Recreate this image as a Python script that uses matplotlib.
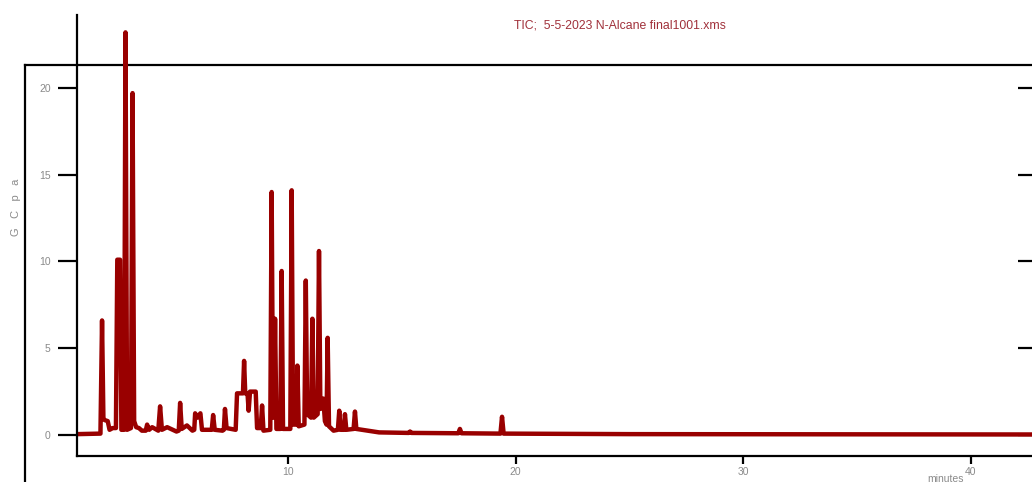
import matplotlib
matplotlib.use("Agg")
import matplotlib.pyplot as plt
from matplotlib.lines import Line2D

plt.rcParams['font.family'] = ['Liberation Sans', 'DejaVu Sans']

# retention time (minutes) and counts
rt_min = [0.73, 1.76, 1.83, 1.89, 1.97, 2.08, 2.16, 2.30, 2.44, 2.50,
          2.62, 2.68, 2.80, 2.86, 2.93, 3.10, 3.17, 3.24, 3.33, 3.45,
          3.58, 3.75, 3.81, 3.90, 4.03, 4.30, 4.38, 4.46, 4.69, 5.10,
          5.20, 5.26, 5.33, 5.56, 5.80, 5.88, 5.92, 6.02, 6.15, 6.22,
          6.65, 6.71, 6.78, 7.12, 7.18, 7.23, 7.30, 7.70, 7.76, 8.02,
          8.07, 8.12, 8.22, 8.27, 8.33, 8.58, 8.64, 8.80, 8.86, 8.92,
          9.22, 9.28, 9.34, 9.38, 9.43, 9.49, 9.66, 9.72, 9.78, 10.10,
          10.16, 10.22, 10.36, 10.41, 10.47, 10.72, 10.78, 10.84, 11.01, 11.07,
          11.13, 11.30, 11.36, 11.42, 11.51, 11.55, 11.62, 11.69, 11.74, 11.80,
          12.00, 12.19, 12.25, 12.31, 12.45, 12.50, 12.56, 12.88, 12.94, 13.00,
          13.50, 14.00, 15.30, 15.36, 15.42, 17.48, 17.55, 17.62, 19.33, 19.40,
          19.47, 25.00, 42.70]
counts = [0.05, 0.08, 6.60, 0.90, 0.85, 0.80, 0.30, 0.40, 0.40, 10.10,
          10.10, 0.30, 0.30, 23.20, 0.30, 0.40, 19.70, 0.80, 0.45, 0.40,
          0.25, 0.25, 0.60, 0.30, 0.45, 0.25, 1.65, 0.30, 0.45, 0.20,
          0.25, 1.85, 0.35, 0.55, 0.25, 0.30, 1.25, 1.00, 1.25, 0.30,
          0.30, 1.15, 0.30, 0.25, 0.30, 1.50, 0.40, 0.30, 2.40, 2.40,
          4.27, 2.40, 2.40, 1.40, 2.50, 2.50, 0.40, 0.40, 1.70, 0.25,
          0.30, 14.00, 1.00, 1.00, 6.70, 0.35, 0.35, 9.45, 0.35, 0.35,
          14.10, 0.60, 0.60, 4.00, 0.50, 0.60, 8.90, 1.20, 1.00, 6.70,
          1.00, 1.20, 10.60, 1.50, 1.60, 2.10, 0.80, 0.60, 5.60, 0.50,
          0.25, 0.30, 1.40, 0.30, 0.30, 1.20, 0.30, 0.35, 1.35, 0.35,
          0.25, 0.15, 0.12, 0.20, 0.12, 0.10, 0.35, 0.10, 0.08, 1.05,
          0.08, 0.05, 0.03]

x_ticks = [10, 20, 30, 40]
y_ticks = [0, 5, 10, 15, 20]

W, H = 1032, 482
fig = plt.figure(figsize=(W / 100, H / 100), dpi=100)
ax = fig.add_axes([77 / W, (H - 456) / H, 1 - 77 / W, (456 - 15) / H])
ax.patch.set_visible(False)

ax.plot(rt_min, counts, color='#990000', lw=3.2, solid_joinstyle='round')

ax.set_xlim(0.73, 42.68)
ax.set_ylim(-1.21, 24.2)

for s in ['top', 'right']:
    ax.spines[s].set_visible(False)
ax.spines['left'].set_linewidth(1.6)
ax.spines['bottom'].set_linewidth(1.6)

ax.set_xticks(x_ticks)
ax.set_yticks(y_ticks)
grey = '#8a8a8a'
ax.tick_params(axis='x', direction='out', length=6, width=1.6, pad=2,
               labelsize=7.5, labelcolor=grey)
ax.tick_params(axis='y', which='both', left=True, right=True,
               direction='out', length=14, width=1.6, pad=5,
               labelsize=7.5, labelcolor=grey)
# right side ticks point inward
for t in ax.yaxis.get_major_ticks():
    t.tick2line.set_marker(0)
    t.tick2line.set_markersize(10)
    t.tick2line.set_markeredgewidth(1.6)

# outer frame of the instrument printout
fig.add_artist(Line2D([25 / W, 25 / W], [0, (H - 65) / H], color='black', lw=1.6, zorder=-1))
fig.add_artist(Line2D([25 / W, 1], [(H - 65) / H, (H - 65) / H], color='black', lw=1.6, zorder=-1))

fig.text(620 / W, 1 - 25 / H, 'TIC;  5-5-2023 N-Alcane final1001.xms', color='#a0303a',
         fontsize=8.8, ha='center', va='center')
fig.text(16 / W, 1 - 207 / H, 'G   C   p   a', color=grey, fontsize=8, rotation=90,
         ha='center', va='center')
fig.text(946 / W, 1 - 479 / H, 'minutes', color=grey, fontsize=7.5, ha='center', va='center')

fig.savefig('out.png', dpi=100)
